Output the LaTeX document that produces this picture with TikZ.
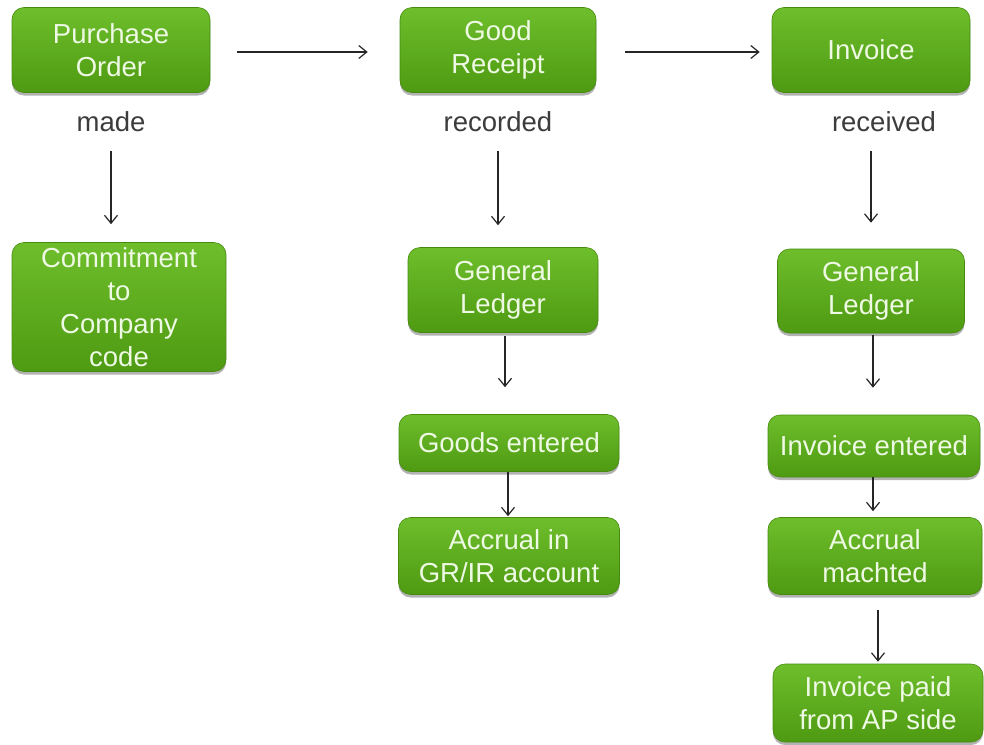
\documentclass[tikz,border=0pt]{standalone}
\usepackage{fontspec}
\setmainfont{Liberation Sans}
\usetikzlibrary{arrows.meta,shadows}
\definecolor{gtop}{HTML}{6EBE2C}
\definecolor{gbot}{HTML}{4E9A12}
\definecolor{gtext}{HTML}{EEF9E4}
\definecolor{lbl}{HTML}{3C3C3C}
\begin{document}
\begin{tikzpicture}[x=1pt,y=-1pt,
  box/.style={rectangle, rounded corners=12pt, inner sep=0pt, align=center,
    top color=gtop, bottom color=gbot, draw=gbot!90!black, line width=0.6pt,
    text=gtext, font=\fontsize{27.5}{33}\selectfont,
    drop shadow={shadow xshift=0pt, shadow yshift=-3pt, opacity=0.3, fill=black}},
  lab/.style={inner sep=0pt, text=lbl, font=\fontsize{27.5}{32}\selectfont},
  arr/.style={draw=black!85, line width=1.2pt, -{Straight Barb[length=8pt,width=13pt]}}
]
\useasboundingbox (0,0) rectangle (984,744);
\fill[white] (0,0) rectangle (984,744);

\node[box, minimum width=198pt, minimum height=85pt] (po) at (111,50) {Purchase\\Order};
\node[box, minimum width=196pt, minimum height=85pt] (gr) at (498,50) {Good\\Receipt};
\node[box, minimum width=198pt, minimum height=85pt] (inv) at (871,50) {Invoice};

\node[lab] (made) at (111,122) {made};
\node[lab] (rec) at (498,122) {recorded};
\node[lab] (recv) at (884,122) {received};

\node[box, minimum width=214pt, minimum height=129pt] (cc) at (119,307) {Commitment\\to\\Company\\code};
\node[box, minimum width=190pt, minimum height=85pt] (gl1) at (503,290) {General\\Ledger};
\node[box, minimum width=187pt, minimum height=84pt] (gl2) at (871,291) {General\\Ledger};
\node[box, minimum width=220pt, minimum height=57pt] (ge) at (509,443) {Goods entered};
\node[box, minimum width=221pt, minimum height=77pt] (acc1) at (509,556) {Accrual in\\GR/IR account};
\node[box, minimum width=212pt, minimum height=62pt] (ie) at (874,446) {Invoice entered};
\node[box, minimum width=214pt, minimum height=77pt] (acc2) at (875,556) {Accrual\\machted};
\node[box, minimum width=210pt, minimum height=78pt] (paid) at (878,703) {Invoice paid\\from AP side};

\draw[arr, shorten <=27pt, shorten >=32pt] ([yshift=-2pt]po.east) -- ([yshift=-2pt]po.east -| gr.west);
\draw[arr, shorten <=29pt, shorten >=12pt] ([yshift=-2pt]gr.east) -- ([yshift=-2pt]gr.east -| inv.west);

\draw[arr, shorten <=58pt, shorten >=18pt] (po.south) -- (po.south |- cc.north);
\draw[arr, shorten <=58pt, shorten >=22pt] (gr.south) -- (gr.south |- gl1.north);
\draw[arr, shorten <=58pt, shorten >=26pt] (inv.south) -- (inv.south |- gl2.north);

\draw[arr, shorten <=3pt, shorten >=27pt] ([xshift=2pt]gl1.south) -- ([xshift=2pt]gl1.south |- ge.north);
\draw[arr, shorten >=1pt] ([xshift=-1pt]ge.south) -- ([xshift=-1pt]ge.south |- acc1.north);
\draw[arr, shorten <=2pt, shorten >=27pt] ([xshift=2pt]gl2.south) -- ([xshift=2pt]gl2.south |- ie.north);
\draw[arr, shorten >=6pt] ([xshift=-1pt]ie.south) -- ([xshift=-1pt]ie.south |- acc2.north);
\draw[arr, shorten <=15pt, shorten >=2pt] ([xshift=3pt]acc2.south) -- ([xshift=3pt]acc2.south |- paid.north);
\end{tikzpicture}
\end{document}
